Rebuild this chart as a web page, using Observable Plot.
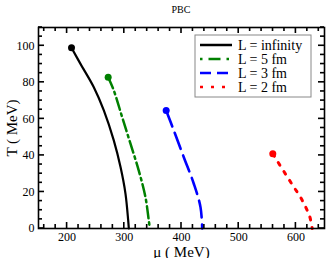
<!DOCTYPE html>
<html>
<head>
<meta charset="utf-8">
<script src="https://cdn.jsdelivr.net/npm/d3@7"></script>
<script src="https://cdn.jsdelivr.net/npm/@observablehq/plot@0.6"></script>
<style>
  html, body { margin: 0; padding: 0; background: #fff; }
  #wrap { position: relative; width: 327px; height: 258px; font-family: "Liberation Serif", serif; }
  #title { position: absolute; left: 0; width: 362px; top: 4px; text-align: center; font-size: 10px; }
  #chart { position: absolute; left: 0; top: 0; }
</style>
</head>
<body>
<div id="wrap"><div id="chart"></div><div id="title">PBC</div></div>
<script>
// Series names
const seriesNames = ["L = infinity", "L = 5 fm", "L = 3 fm", "L = 2 fm"];
const seriesColors = ["#000000", "#008000", "#0000ff", "#ff0000"];

// L = infinity
const muInf = [207.7, 223.4, 246.7, 264.2, 281.6, 293.4, 302.1, 306.8, 307.9];
const tInf  = [98.9, 90.1, 77.3, 64.6, 48.2, 33.6, 19.0, 4.4, 0];
// L = 5 fm
const mu5 = [271.8, 281.7, 296.3, 310.8, 325.3, 337.0, 342.8, 344.6];
const t5  = [82.8, 75.5, 60.9, 46.4, 31.7, 17.1, 4.4, 0];
// L = 3 fm
const mu3 = [373.2, 386.6, 404.0, 421.5, 433.2, 436.2];
const t3  = [64.6, 53.6, 39.0, 24.5, 11.7, 0];
// L = 2 fm
const mu2 = [559.6, 566.1, 576.0, 586.5, 597.0, 607.5, 616.8, 624.3, 628.5];
const t2  = [40.9, 37.6, 32.7, 27.5, 22.4, 17.4, 11.9, 6.4, 0];

// Axis ticks
const xDomain = [150, 650];
const yDomain = [0, 110];
const xMajor = [200, 300, 400, 500, 600];
const xMinor = d3.range(160, 650, 20).filter(v => v % 100 !== 0);
const yMajor = [0, 20, 40, 60, 80, 100];
const yMinor = d3.range(5, 111, 5).filter(v => v % 20 !== 0);

const muArrays = [muInf, mu5, mu3, mu2];
const tArrays = [tInf, t5, t3, t2];
const dashes = [null, "12,4,2.5,4", "17,7", "3,7.5"];
const widths = [2.2, 2.5, 2.6, 3];

const rows = [];
seriesNames.forEach((name, i) => {
  muArrays[i].forEach((m, j) => rows.push({series: name, mu: m, T: tArrays[i][j]}));
});
const starts = seriesNames.map((name, i) => ({series: name, mu: muArrays[i][0], T: tArrays[i][0]}));

const lineMarks = seriesNames.map((name, i) =>
  Plot.line(rows.filter(d => d.series === name), {
    x: "mu", y: "T", stroke: seriesColors[i], strokeWidth: widths[i],
    strokeDasharray: dashes[i], curve: "catmull-rom"
  })
);

const M = {left: 38, right: 3, top: 27, bottom: 30, width: 327, height: 258};
// pixel -> data unit conversion for tick sizes
const pxX = (xDomain[1] - xDomain[0]) / (M.width - M.left - M.right);
const pxY = (yDomain[1] - yDomain[0]) / (M.height - M.top - M.bottom);
const tw = 0.8; // half tick thickness, px

function xTicks(values, lenPx) {
  const l = lenPx * pxY, w = tw * pxX;
  return [
    Plot.rect(values, {x1: d => d - w, x2: d => d + w, y1: yDomain[0], y2: yDomain[0] + l, fill: "#000"}),
    Plot.rect(values, {x1: d => d - w, x2: d => d + w, y1: yDomain[1] - l, y2: yDomain[1], fill: "#000"})
  ];
}
function yTicks(values, lenPx) {
  const l = lenPx * pxX, w = tw * pxY;
  return [
    Plot.rect(values, {y1: d => d - w, y2: d => d + w, x1: xDomain[0], x2: xDomain[0] + l, fill: "#000"}),
    Plot.rect(values, {y1: d => d - w, y2: d => d + w, x1: xDomain[1] - l, x2: xDomain[1], fill: "#000"})
  ];
}

const plot = Plot.plot({
  width: M.width,
  height: M.height,
  marginLeft: M.left,
  marginRight: M.right,
  marginTop: M.top,
  marginBottom: M.bottom,
  style: {fontFamily: "Liberation Serif, serif", fontSize: "12px", color: "#000", background: "#fff"},
  x: {domain: xDomain},
  y: {domain: yDomain},
  marks: [
    ...lineMarks,
    Plot.dot(starts, {x: "mu", y: "T", fill: (d) => seriesColors[seriesNames.indexOf(d.series)], r: 3.5}),
    Plot.axisX({ticks: xMajor, tickSize: 0, tickPadding: 4, label: "μ ( MeV)", labelAnchor: "center", labelOffset: 28, labelArrow: "none"}),
    Plot.axisY({ticks: yMajor, tickSize: 0, tickPadding: 4, label: "T ( MeV)", labelAnchor: "center", labelOffset: 32, labelArrow: "none"}),
    ...xTicks(xMajor, 6),
    ...xTicks(xMinor, 4),
    ...yTicks(yMajor, 6),
    ...yTicks(yMinor, 4),
    Plot.frame({stroke: "#000", strokeWidth: 1.6})
  ]
});
document.getElementById("chart").appendChild(plot);

// Axis label font size
const svg = d3.select(plot);
svg.selectAll("g[aria-label='x-axis label'] text, g[aria-label='y-axis label'] text")
  .style("font-size", "15px");

// Legend inside the SVG
const lg = svg.append("g").attr("transform", "translate(195,35)");
lg.append("rect").attr("width", 116).attr("height", 62).attr("fill", "#fff").attr("stroke", "#888").attr("stroke-width", 1);
seriesNames.forEach((name, i) => {
  const y = 10 + i * 14;
  lg.append("line").attr("x1", 5).attr("x2", 37).attr("y1", y).attr("y2", y)
    .attr("stroke", seriesColors[i]).attr("stroke-width", 2.5)
    .attr("stroke-dasharray", i === 0 ? null : (i === 1 ? "2.5,6,12,6" : (i === 2 ? "11,6" : "3,8")));
  lg.append("text").attr("x", 43).attr("y", y).attr("dy", "0.35em")
    .attr("text-anchor", "start")
    .style("font-family", "Liberation Serif, serif").style("font-size", "14px").attr("fill", "#000").text(name);
});
</script>
</body>
</html>
